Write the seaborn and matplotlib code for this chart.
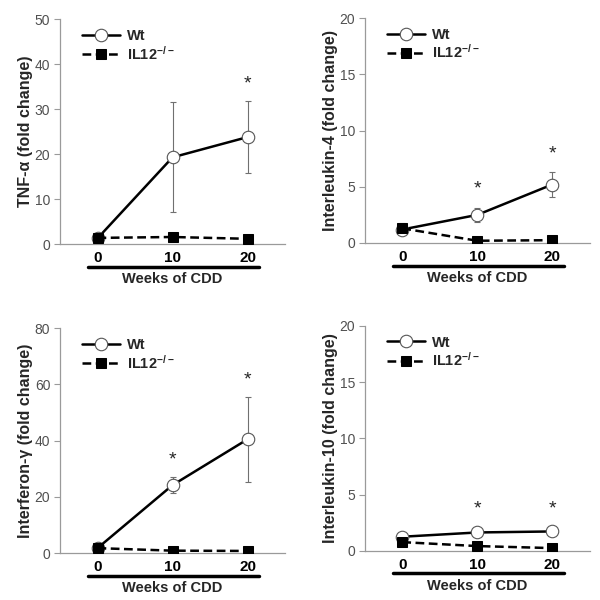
import matplotlib.pyplot as plt
import seaborn as sns
import pandas as pd

weeks = [0, 10, 20]

tnf_wt = [1.3, 19.3, 23.8]
tnf_wt_err = [0.3, 12.2, 8.0]
tnf_ko = [1.4, 1.6, 1.2]
tnf_ko_err = [0.2, 0.2, 0.2]
tnf_stars = [(20, 35.5)]

il4_wt = [1.2, 2.5, 5.2]
il4_wt_err = [0.5, 0.6, 1.15]
il4_ko = [1.3, 0.2, 0.25]
il4_ko_err = [0.5, 0.1, 0.1]
il4_stars = [(10, 4.8), (20, 7.9)]

ifn_wt = [1.8, 24.2, 40.5]
ifn_wt_err = [0.5, 2.8, 15.2]
ifn_ko = [1.8, 0.9, 0.8]
ifn_ko_err = [0.3, 0.2, 0.2]
ifn_stars = [(10, 33.0), (20, 61.5)]

il10_wt = [1.25, 1.63, 1.72]
il10_wt_err = [0.1, 0.3, 0.1]
il10_ko = [0.77, 0.42, 0.24]
il10_ko_err = [0.1, 0.1, 0.05]
il10_stars = [(10, 3.7), (20, 3.7)]

sns.set_style("ticks")
plt.rcParams["font.family"] = ["Liberation Sans", "DejaVu Sans"]
plt.rcParams["mathtext.fontset"] = "custom"
plt.rcParams["mathtext.bf"] = "Liberation Sans:bold"
plt.rcParams["mathtext.rm"] = "Liberation Sans:bold"
plt.rcParams["mathtext.default"] = "bf"

panels = [
    # rect, ylabel, ymax, ystep, wt, wt_err, ko, ko_err, stars
    ([0.100, 0.593, 0.375, 0.375], "TNF-α (fold change)", 50, 10,
     tnf_wt, tnf_wt_err, tnf_ko, tnf_ko_err, tnf_stars),
    ([0.608, 0.595, 0.375, 0.375], "Interleukin-4 (fold change)", 20, 5,
     il4_wt, il4_wt_err, il4_ko, il4_ko_err, il4_stars),
    ([0.100, 0.078, 0.375, 0.375], "Interferon-γ (fold change)", 80, 20,
     ifn_wt, ifn_wt_err, ifn_ko, ifn_ko_err, ifn_stars),
    ([0.608, 0.082, 0.375, 0.375], "Interleukin-10 (fold change)", 20, 5,
     il10_wt, il10_wt_err, il10_ko, il10_ko_err, il10_stars),
]

fig = plt.figure(figsize=(6, 6), dpi=100)
grey = "#9a9a9a"

for rect, ylab, ymax, ystep, wt, wt_err, ko, ko_err, stars in panels:
    ax = fig.add_axes(rect)
    df = pd.DataFrame({"week": weeks + weeks,
                       "value": wt + ko,
                       "group": ["Wt"] * 3 + ["KO"] * 3})

    # error bars under the markers
    ax.errorbar(weeks, wt, yerr=wt_err, fmt="none", ecolor="#707070",
                elinewidth=0.8, capsize=2.5, capthick=0.8, zorder=1)
    ax.errorbar(weeks, ko, yerr=ko_err, fmt="none", ecolor="#707070",
                elinewidth=0.8, capsize=2.5, capthick=0.8, zorder=1)

    sns.lineplot(data=df[df.group == "Wt"], x="week", y="value", ax=ax,
                 color="black", linewidth=1.8, marker="o", markersize=9,
                 markerfacecolor="white", markeredgecolor="#555555",
                 markeredgewidth=0.8, label="Wt", zorder=2)
    sns.lineplot(data=df[df.group == "KO"], x="week", y="value", ax=ax,
                 color="black", linestyle=(0, (3.5, 1.8)), linewidth=1.8,
                 marker="s", markersize=7, markerfacecolor="black",
                 markeredgecolor="black", label="IL12$^{-/-}$", zorder=3)

    for sx, sy in stars:
        ax.text(sx, sy, "*", ha="center", va="center", fontsize=14)

    ax.set_xlim(-5, 25)
    ax.set_ylim(0, ymax)
    ax.set_yticks(range(0, ymax + 1, ystep))
    ax.set_xticks(weeks)
    ax.set_xticklabels(["0", "10", "20"], fontsize=11, fontweight="bold")
    ax.tick_params(axis="x", length=0, pad=5, colors="black")
    ax.tick_params(axis="y", length=4, width=0.8, color=grey,
                   labelcolor="#505050", labelsize=10, pad=3)
    for s in ["top", "right"]:
        ax.spines[s].set_visible(False)
    for s in ["left", "bottom"]:
        ax.spines[s].set_color(grey)
        ax.spines[s].set_linewidth(0.9)

    ax.set_ylabel(ylab, fontsize=11.5, fontweight="bold")
    ax.yaxis.set_label_coords(-0.12, 0.5)
    ax.set_xlabel("Weeks of CDD", fontsize=10.5, fontweight="bold", labelpad=5)

    # thick bar under the week labels
    ax.plot([-1.3, 21.5], [-0.1, -0.1], color="black", linewidth=2.5,
            transform=ax.get_xaxis_transform(), clip_on=False)

    ax.legend(loc="upper left", bbox_to_anchor=(0.04, 1.015),
              frameon=False, handlelength=2.6, handletextpad=0.5,
              labelspacing=0.1, prop={"weight": "bold", "size": 10.5})

fig.savefig("out.png", dpi=100)
